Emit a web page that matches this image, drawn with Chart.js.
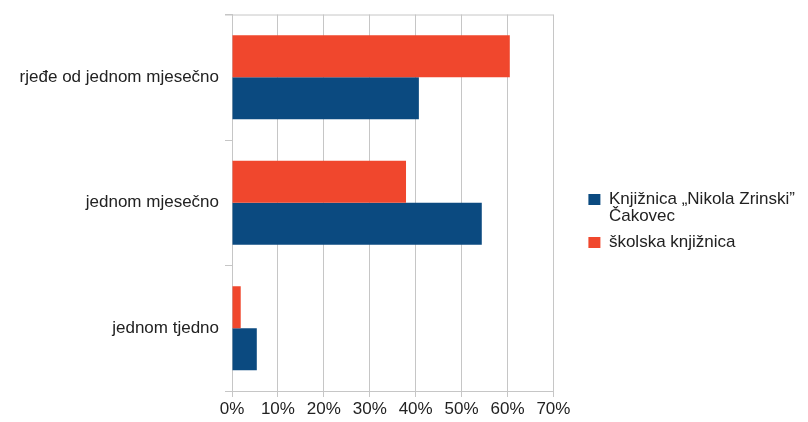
<!DOCTYPE html>
<html>
<head>
<meta charset="utf-8">
<script src="https://cdn.jsdelivr.net/npm/chart.js@4.4.1/dist/chart.umd.min.js"></script>
<style>
  html, body { margin: 0; padding: 0; background: #fff; }
  #wrap { position: relative; width: 808px; height: 422px; }
</style>
</head>
<body>
<div id="wrap"><canvas id="myChart"></canvas></div>
<script>
const categories = ['rjeđe od jednom mjesečno', 'jednom mjesečno', 'jednom tjedno'];
const skolskaValues = [60.5, 37.9, 1.9];
const zrinskiValues = [40.7, 54.4, 5.4];
const xTicks = [0, 10, 20, 30, 40, 50, 60, 70];

const GRID = '#c6c6c6';
const FONT = { family: 'Liberation Sans', size: 17, lineHeight: 1 };

// top frame line (LibreOffice style wall border)
const topFrame = {
  id: 'topFrame',
  afterDraw(chart) {
    const { ctx, chartArea: { top, left, right } } = chart;
    ctx.save();
    ctx.strokeStyle = GRID;
    ctx.lineWidth = 1;
    ctx.beginPath();
    ctx.moveTo(left - 7, top + 0.5);
    ctx.lineTo(right, top + 0.5);
    ctx.stroke();
    ctx.restore();
  },
};

const ctx = document.getElementById('myChart').getContext('2d');
new Chart(ctx, {
  type: 'bar',
  data: {
    labels: categories,
    datasets: [
      {
        label: 'školska knjižnica',
        data: skolskaValues,
        backgroundColor: '#f0472d',
        categoryPercentage: 0.67,
        barPercentage: 1,
      },
      {
        label: ['Knjižnica „Nikola Zrinski”', 'Čakovec'],
        data: zrinskiValues,
        backgroundColor: '#0b4a80',
        categoryPercentage: 0.67,
        barPercentage: 1,
      },
    ],
  },
  options: {
    indexAxis: 'y',
    responsive: true,
    maintainAspectRatio: false,
    animation: false,
    layout: {
      padding: { top: 12, left: 0, right: 3, bottom: 0 },
    },
    scales: {
      x: {
        min: 0,
        max: 70,
        afterBuildTicks: (axis) => {
          axis.ticks = xTicks.map((v) => ({ value: v }));
        },
        ticks: {
          callback: (v) => v + '%',
          color: '#222',
          font: FONT,
          padding: 4,
          maxRotation: 0,
        },
        grid: { color: GRID, tickLength: 6 },
        border: { color: GRID },
      },
      y: {
        offset: true,
        ticks: {
          color: '#222',
          font: FONT,
          padding: 6,
        },
        grid: {
          offset: true,
          drawOnChartArea: false,
          color: GRID,
          tickLength: 7,
        },
        border: { color: GRID },
        afterFit: (scale) => {
          scale.width = 232;
        },
      },
      // empty spacer between plot and legend
      gap: {
        type: 'linear',
        position: 'right',
        ticks: { display: false },
        grid: { display: false },
        border: { display: false },
        afterFit: (scale) => {
          scale.width = 26;
        },
      },
    },
    plugins: {
      tooltip: { enabled: false },
      legend: {
        position: 'right',
        reverse: true,
        maxWidth: 260,
        // empty title only nudges the items down a little
        title: { display: true, text: ' ', font: { size: 1 }, padding: { top: 7, bottom: 0 } },
        labels: {
          boxWidth: 12,
          boxHeight: 11,
          padding: 9,
          color: '#222',
          font: FONT,
        },
      },
    },
  },
  plugins: [topFrame],
});
</script>
</body>
</html>
